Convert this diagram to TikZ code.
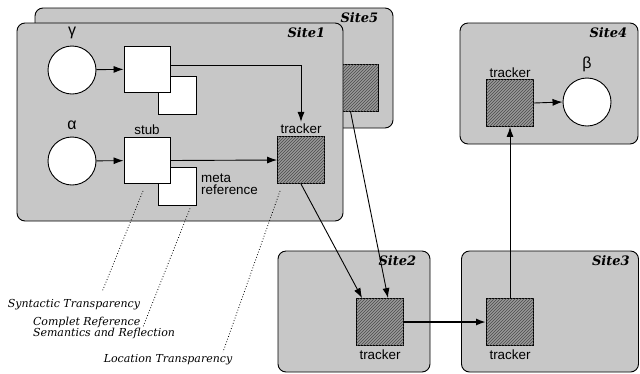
\documentclass[tikz,border=0pt]{standalone}
\usepackage{fontspec}
\setmainfont{Liberation Sans}
\newfontfamily\sitefont{DejaVu Serif}
\usetikzlibrary{arrows.meta, patterns}

\tikzset{
  site/.style={draw=black, line width=0.9pt, fill=black!22, rounded corners=8pt, inner sep=0pt},
  sitename/.style={font=\sitefont\bfseries\itshape\fontsize{13}{13}\selectfont, anchor=north east, inner sep=0pt},
  obj/.style={circle, draw, line width=0.9pt, fill=white, minimum size=48pt, inner sep=0pt},
  stubbox/.style={draw, line width=0.9pt, fill=white, minimum size=46pt, inner sep=0pt},
  metabox/.style={draw, line width=0.9pt, fill=white, minimum size=38pt, inner sep=0pt},
  trackbox/.style={draw, line width=0.9pt, fill=black!40, minimum size=47pt, inner sep=0pt,
                   postaction={pattern=north east lines, pattern color=black!70}},
  lbl/.style={font=\fontsize{13.4}{13.4}\selectfont, inner sep=0pt},
  greek/.style={font=\fontsize{16}{16}\selectfont, inner sep=0pt},
  note/.style={font=\sitefont\itshape\fontsize{11}{10.5}\selectfont, inner sep=0pt, align=left},
  ref/.style={-{Latex[length=10pt,width=7pt]}, line width=0.9pt},
  hint/.style={dotted, line width=0.8pt}
}

\begin{document}
\begin{tikzpicture}[x=1pt,y=-1pt]
\useasboundingbox (0,0) rectangle (640,373);

% Site5 lies behind Site1
\node[site, minimum width=358pt, minimum height=120pt] (s5) at (214,68) {};
\node[sitename] at ([shift={(-15,5)}]s5.north east) {Site5};
\node[trackbox] (t5) at (354.5,87.5) {};

% Site1
\node[site, minimum width=326pt, minimum height=198pt] (s1) at (180,122) {};
\node[sitename] at ([shift={(-18,5)}]s1.north east) {Site1};
\node[obj] (gamma) at (72,70) {};
\node[greek] at (72,33) {γ};
\node[metabox] (gmeta) at (177,95.5) {};
\node[stubbox] (gstub) at (147,69) {};
\node[obj] (alpha) at (72,161) {};
\node[greek] at (72,125) {α};
\node[metabox] (ameta) at (177,186) {};
\node[stubbox] (astub) at (147,160.5) {};
\node[lbl] at (147,130) {stub};
\node[lbl, anchor=base west] (metalbl) at (201,182) {meta};
\node[lbl, anchor=base west] (reflbl) at (201,194.5) {reference};
\node[trackbox] (t1) at (301,160) {};
\node[lbl] (t1lbl) at (301,129) {tracker};

% Site4
\node[site, minimum width=178pt, minimum height=121pt] (s4) at (549,83.5) {};
\node[sitename] at ([shift={(-11,5)}]s4.north east) {Site4};
\node[trackbox] (t4) at (510,103) {};
\node[lbl] at (510,73) {tracker};
\node[obj] (beta) at (587,102) {};
\node[greek] at (587,64) {β};

% Site2 and Site3
\node[site, minimum width=152pt, minimum height=121pt] (s2) at (354,311.5) {};
\node[sitename] at ([shift={(-14,5)}]s2.north east) {Site2};
\node[trackbox] (t2) at (380,322) {};
\node[lbl] at (380,355) {tracker};
\node[site, minimum width=177pt, minimum height=121pt] (s3) at (550,311.5) {};
\node[sitename] at ([shift={(-9,5)}]s3.north east) {Site3};
\node[trackbox] (t3) at (510,322) {};
\node[lbl] at (510,355) {tracker};

% references
\draw[ref] (gamma) -- (gstub);
\draw[ref] ([yshift=4]gstub.east) -| ([yshift=2]t1lbl.north);
\draw[ref] (alpha) -- (astub);
\draw[ref] (astub.east) -- (t1.west);
\draw[ref] (t1.south) -- ([xshift=6]t2.north west);
\draw[ref] ([xshift=-4]t5.south) -- ([xshift=8]t2.north);
\draw[ref, line width=1.8pt] (t2.east) -- (t3.west);
\draw[ref] (t3.north) -- (t4.south);
\draw[ref] (t4.east) -- (beta.west);

% annotations
\node[note] (syn) at (74,305) {Syntactic Transparency};
\node[note] (comp) at (104,328) {Complet Reference\\Semantics and Reflection};
\node[note] (loc) at (168,360) {Location Transparency};
\coordinate (synend) at (102,292);
\coordinate (compend) at (143,327);
\coordinate (locend) at (223,352);
\draw[hint] ([shift={(-4,7)}]astub.south) -- (synend);
\draw[hint] ([shift={(13,3)}]ameta.south) -- (compend);
\draw[hint] ([shift={(3,7)}]t1.south west) -- (locend);
\end{tikzpicture}
\end{document}
